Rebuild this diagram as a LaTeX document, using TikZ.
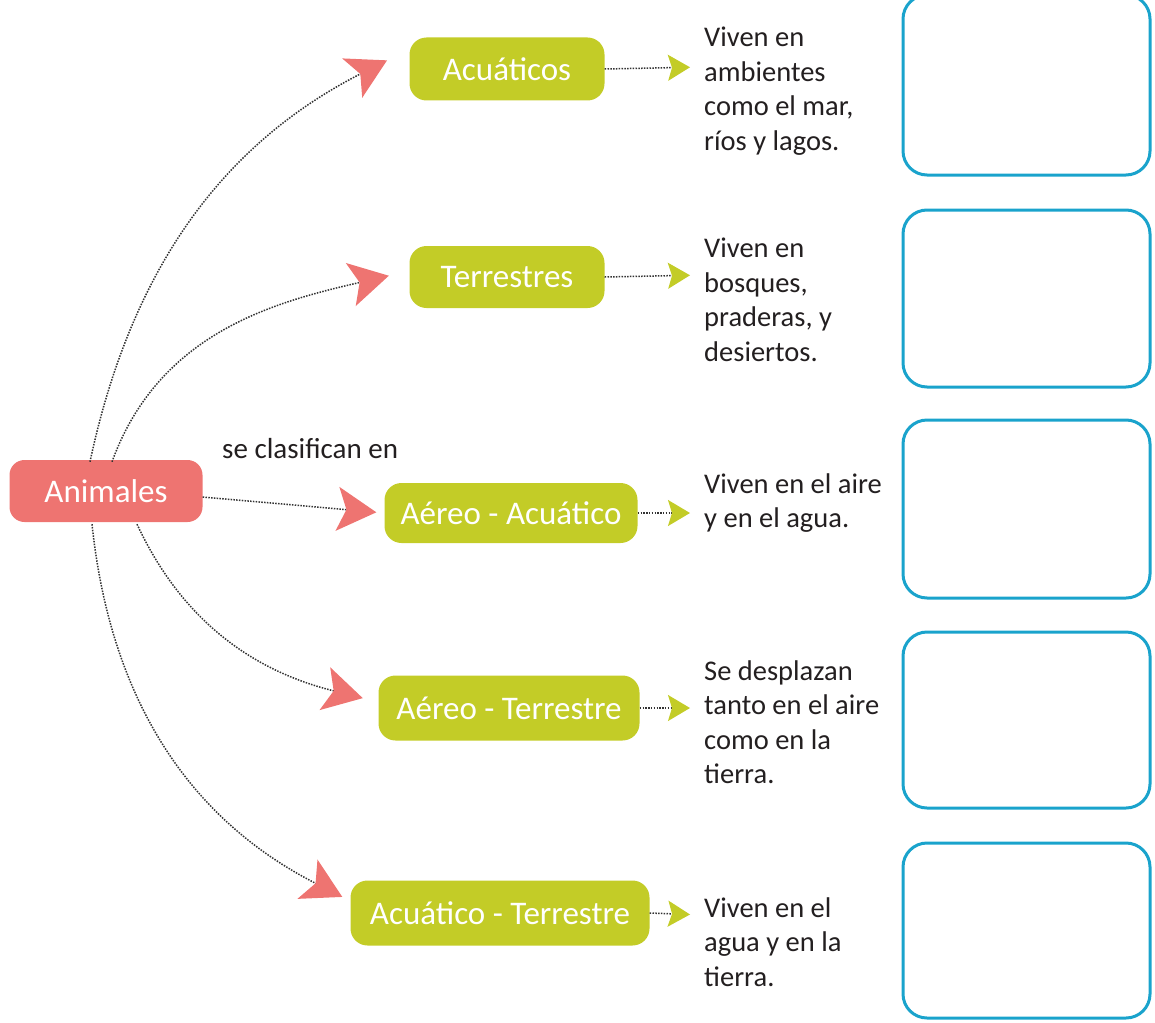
\documentclass[tikz,border=0pt]{standalone}
\usepackage{fontspec}
\setmainfont{Carlito}
\usetikzlibrary{arrows.meta}
\definecolor{pinkc}{HTML}{EE7471}
\definecolor{greenc}{HTML}{C3CC27}
\definecolor{bluec}{HTML}{1AA3CC}
\definecolor{txtc}{HTML}{231F20}
\definecolor{dotc}{HTML}{333333}
\begin{document}
\begin{tikzpicture}[x=1pt,y=1pt,
  pinknode/.style={fill=pinkc, rounded corners=15pt, text=white, font=\fontsize{33}{36}\selectfont, inner sep=0pt},
  greennode/.style={fill=greenc, rounded corners=17pt, text=white, font=\fontsize{33}{36}\selectfont, inner sep=0pt},
  desc/.style={anchor=west, align=left, text=txtc, font=\fontsize{28.5}{34.5}\selectfont, inner sep=0pt},
  lbl/.style={anchor=west, text=txtc, font=\fontsize{29}{34}\selectfont, inner sep=0pt},
  bluebox/.style={draw=bluec, line width=3pt, rounded corners=24pt, inner sep=0pt, minimum width=247pt},
  dotline/.style={draw=dotc, line width=1.5pt, dash pattern=on 1.5pt off 1.3pt},
  pinkarrow/.style={dotline, -{Stealth[length=39pt, width=44pt, inset=9pt, color=pinkc]}},
  greenarrow/.style={dotline, -{Stealth[length=22pt, width=26pt, inset=4pt, color=greenc]}, shorten >=14pt},
]
\useasboundingbox (0,0) rectangle (1155,-1022);

% main node
\node[pinknode, minimum width=193pt, minimum height=62pt] (Ani) at (106,-491) {Animales};
\node[lbl] (Lbl) at (222,-449) {se clasifican en};

% categories
\node[greennode, minimum width=195pt, minimum height=63pt] (Acu) at (507,-69) {Acuáticos};
\node[greennode, minimum width=195pt, minimum height=62pt] (Ter) at (507,-277) {Terrestres};
\node[greennode, minimum width=253pt, minimum height=60pt] (AAc) at (511,-513) {Aéreo - Acuático};
\node[greennode, minimum width=261pt, minimum height=65pt] (ATe) at (509,-708) {Aéreo - Terrestre};
\node[greennode, minimum width=299pt, minimum height=65pt] (ACT) at (500,-913) {Acuático - Terrestre};

% descriptions
\node[desc] (D1) at (704,-91) {Viven en\\ambientes\\como el mar,\\ríos y lagos.};
\node[desc] (D2) at (704,-300) {Viven en\\bosques,\\praderas, y\\desiertos.};
\node[desc] (D3) at (704,-503) {Viven en el aire\\y en el agua.};
\node[desc] (D4) at (704,-722) {Se desplazan\\tanto en el aire\\como en la\\tierra.};
\node[desc] (D5) at (704,-942) {Viven en el\\agua y en la\\tierra.};

% empty boxes
\node[bluebox, minimum height=180pt] (B1) at (1026.5,-85) {};
\node[bluebox, minimum height=177pt] (B2) at (1026.5,-298.5) {};
\node[bluebox, minimum height=178pt] (B3) at (1026.5,-509) {};
\node[bluebox, minimum height=176pt] (B4) at (1026.5,-720) {};
\node[bluebox, minimum height=175pt] (B5) at (1026.5,-930.5) {};

% pink connectors
\draw[pinkarrow, shorten >=25pt] ([xshift=-16pt,yshift=-2pt]Ani.north) to[out=78,in=207] ([yshift=20pt]Acu.west);
\draw[pinkarrow, shorten >=21pt] ([xshift=6pt,yshift=-2pt]Ani.north) to[out=70,in=193] ([yshift=6pt]Ter.west);
\draw[pinkarrow, shorten >=8pt] ([yshift=-6pt]Ani.east) -- (AAc.west);
\draw[pinkarrow, shorten >=16pt] ([xshift=31pt,yshift=-2pt]Ani.south) to[out=-65,in=166] ([yshift=6pt]ATe.west);
\draw[pinkarrow, shorten >=9pt] ([xshift=-14pt,yshift=-2pt]Ani.south) to[out=-84,in=153] ([yshift=12pt]ACT.west);

% green connectors
\draw[greenarrow] (Acu.east) -- ([yshift=2pt]Acu.east -| D1.west);
\draw[greenarrow] (Ter.east) -- ([yshift=2pt]Ter.east -| D2.west);
\draw[greenarrow] (AAc.east) -- (AAc.east -| D3.west);
\draw[greenarrow] (ATe.east) -- (ATe.east -| D4.west);
\draw[greenarrow] (ACT.east) -- ([yshift=-2pt]ACT.east -| D5.west);
\end{tikzpicture}
\end{document}
